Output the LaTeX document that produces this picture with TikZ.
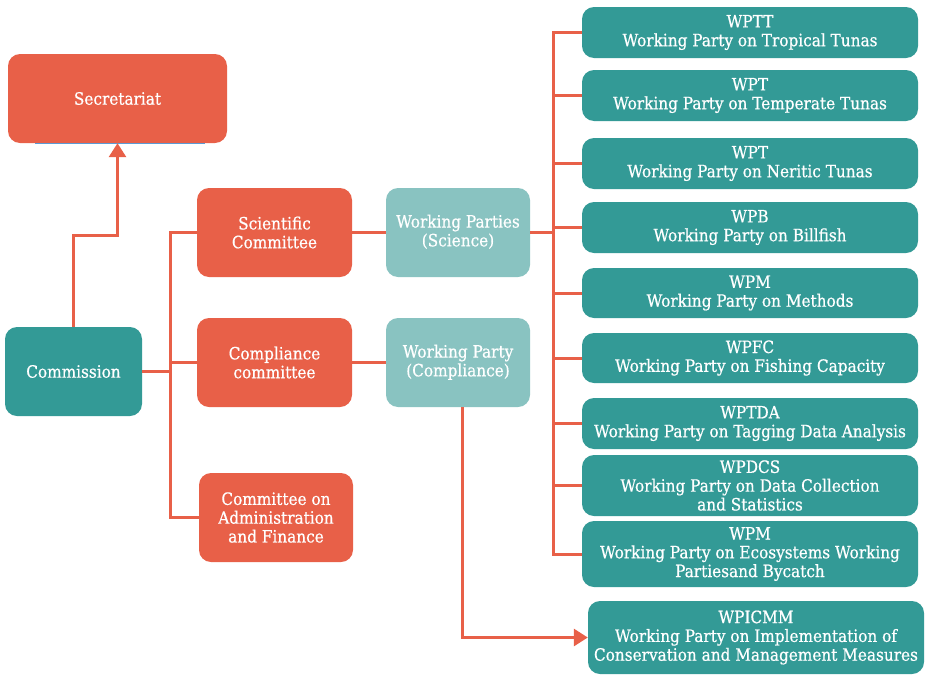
\documentclass[tikz,border=0pt]{standalone}
\usepackage{fontspec}
\setmainfont{DejaVu Serif Condensed}[FakeBold=0.6]
\usetikzlibrary{arrows.meta}

\definecolor{iotcred}{RGB}{232,96,72}
\definecolor{iotcteal}{RGB}{51,154,150}
\definecolor{iotclight}{RGB}{137,195,193}
\definecolor{iotcblue}{RGB}{91,155,213}

\newcommand{\boxfont}{\fontsize{17}{18.8}\selectfont}

\tikzset{
  orgbox/.style={rounded corners=12pt, text=white, align=center, inner sep=0pt, font=\boxfont},
  redbox/.style={orgbox, fill=iotcred, minimum height=89pt},
  tealbox/.style={orgbox, fill=iotcteal, minimum height=89pt},
  lightbox/.style={orgbox, fill=iotclight, minimum width=144pt, minimum height=89pt, text depth=4pt},
  wpbox/.style={orgbox, fill=iotcteal, minimum width=336pt},
  link/.style={draw=iotcred, line width=3pt},
  buslink/.style={link, line cap=rect},
  linkarrow/.style={link, -{Triangle[width=17pt,length=14pt]}},
}

\begin{document}
\begin{tikzpicture}[x=1pt, y=-1pt]

\useasboundingbox (0,0) rectangle (930,675);

\def\xcbus{170}; % committee bus
\def\xwbus{553}; % working party bus
\def\xwp{750}; % working party column

\coordinate (cbus) at (\xcbus, 0);
\coordinate (wbus) at (\xwbus, 0);

% commission and committees
\node[redbox, minimum width=219pt] (secr) at (117.5, 98.5) {Secretariat};
\node[tealbox, minimum width=137pt] (comm) at (73.5, 371.5) {Commission};
\node[redbox, minimum width=155pt] (sci) at (274.5, 232.5) {Scientific\\Committee};
\node[redbox, minimum width=155pt] (compl) at (274.5, 362.5) {Compliance\\committee};
\node[redbox, minimum width=154pt] (admin) at (276, 517.5) {Committee on\\Administration\\and Finance};

\node[lightbox] (wps) at (458, 232.5) {Working Parties\\(Science)};
\node[lightbox] (wpc) at (458, 362.5) {Working Party\\(Compliance)};

% working parties
\node[wpbox, minimum height=51pt] (wptt) at (\xwp, 32.5) {WPTT\\Working Party on Tropical Tunas};
\node[wpbox, minimum height=51pt] (wptmt) at (\xwp, 95.5) {WPT\\Working Party on Temperate Tunas};
\node[wpbox, minimum height=51pt] (wpnt) at (\xwp, 163.5) {WPT\\Working Party on Neritic Tunas};
\node[wpbox, minimum height=51pt] (wpb) at (\xwp, 227.5) {WPB\\Working Party on Billfish};
\node[wpbox, minimum height=50pt] (wpm) at (\xwp, 293) {WPM\\Working Party on Methods};
\node[wpbox, minimum height=50pt] (wpfc) at (\xwp, 358) {WPFC\\Working Party on Fishing Capacity};
\node[wpbox, minimum height=51pt] (wptda) at (\xwp, 423.5) {WPTDA\\Working Party on Tagging Data Analysis};
\node[wpbox, minimum height=61pt] (wpdcs) at (\xwp, 485.5) {WPDCS\\Working Party on Data Collection\\and Statistics};
\node[wpbox, minimum height=66pt] (wpeb) at (\xwp, 554) {WPM\\Working Party on Ecosystems Working\\Partiesand Bycatch};
\node[wpbox, minimum height=73pt] (wpicmm) at (756, 637.5) {WPICMM\\Working Party on Implementation of\\Conservation and Management Measures};

\draw[iotcblue, line width=1pt] ([xshift=-82.5pt, yshift=-0.5pt]secr.south) -- ([xshift=87.5pt, yshift=-0.5pt]secr.south);

% connectors on the left
\draw[linkarrow] (comm.north) -- ++(0,-91) -| (secr.south);
\draw[link] (comm.east) -- (comm.east -| cbus);
\draw[buslink] (cbus |- sci.west) -- (cbus |- admin.west);
\draw[link] (cbus |- sci.west) -- (sci.west);
\draw[link] (cbus |- compl.west) -- (compl.west);
\draw[link] (cbus |- admin.west) -- (admin.west);

\draw[link] (sci.east) -- (wps.west);
\draw[link] (compl.east) -- (wpc.west);

% connectors on the right
\draw[link] (wps.east) -- (wps.east -| wbus);
\draw[buslink] (wbus |- wptt.west) -- (wbus |- wpeb.west);
\draw[link] (wbus |- wptt.west) -- (wptt.west);
\draw[link] (wbus |- wptmt.west) -- (wptmt.west);
\draw[link] (wbus |- wpnt.west) -- (wpnt.west);
\draw[link] (wbus |- wpb.west) -- (wpb.west);
\draw[link] (wbus |- wpm.west) -- (wpm.west);
\draw[link] (wbus |- wpfc.west) -- (wpfc.west);
\draw[link] (wbus |- wptda.west) -- (wptda.west);
\draw[link] (wbus |- wpdcs.west) -- (wpdcs.west);
\draw[link] (wbus |- wpeb.west) -- (wpeb.west);

\draw[linkarrow] ([xshift=4pt]wpc.south) |- (wpicmm.west);

\end{tikzpicture}
\end{document}
